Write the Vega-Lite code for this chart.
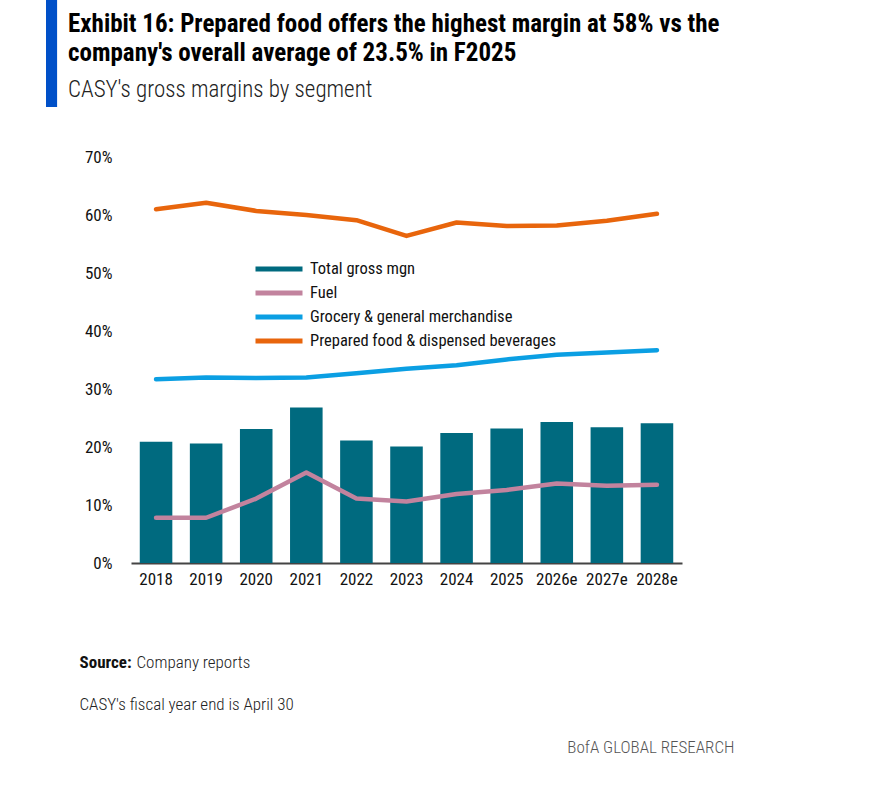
{
  "$schema": "https://vega.github.io/schema/vega-lite/v6.json",
  "autosize": {"type": "none"},
  "width": 551,
  "height": 406,
  "padding": {"left": 131, "top": 157, "right": 196, "bottom": 235},
  "background": "white",
  "config": {
    "view": {"stroke": null},
    "font": "Roboto Condensed, DejaVu Sans Condensed, sans-serif"
  },
  "title": {
    "text": ["Exhibit 16: Prepared food offers the highest margin at 58% vs the", "company's overall average of 23.5% in F2025"],
    "subtitle": "CASY's gross margins by segment",
    "anchor": "start",
    "frame": "group",
    "dx": -63,
    "offset": -96,
    "font": "Roboto Condensed, DejaVu Sans Condensed, sans-serif",
    "fontSize": 25,
    "fontWeight": "bold",
    "lineHeight": 29,
    "color": "#000000",
    "subtitleFont": "Roboto Condensed, DejaVu Sans Condensed, sans-serif",
    "subtitleFontSize": 23,
    "subtitleFontWeight": 300,
    "subtitleColor": "#222222",
    "subtitlePadding": 13
  },
  "data": {
    "values": [
      {"year": "2018", "series": "Total gross mgn", "value": 0.209},
      {"year": "2019", "series": "Total gross mgn", "value": 0.206},
      {"year": "2020", "series": "Total gross mgn", "value": 0.231},
      {"year": "2021", "series": "Total gross mgn", "value": 0.268},
      {"year": "2022", "series": "Total gross mgn", "value": 0.211},
      {"year": "2023", "series": "Total gross mgn", "value": 0.201},
      {"year": "2024", "series": "Total gross mgn", "value": 0.224},
      {"year": "2025", "series": "Total gross mgn", "value": 0.232},
      {"year": "2026e", "series": "Total gross mgn", "value": 0.243},
      {"year": "2027e", "series": "Total gross mgn", "value": 0.234},
      {"year": "2028e", "series": "Total gross mgn", "value": 0.241},
      {"year": "2018", "series": "Fuel", "value": 0.078},
      {"year": "2019", "series": "Fuel", "value": 0.078},
      {"year": "2020", "series": "Fuel", "value": 0.111},
      {"year": "2021", "series": "Fuel", "value": 0.156},
      {"year": "2022", "series": "Fuel", "value": 0.111},
      {"year": "2023", "series": "Fuel", "value": 0.106},
      {"year": "2024", "series": "Fuel", "value": 0.119},
      {"year": "2025", "series": "Fuel", "value": 0.126},
      {"year": "2026e", "series": "Fuel", "value": 0.137},
      {"year": "2027e", "series": "Fuel", "value": 0.133},
      {"year": "2028e", "series": "Fuel", "value": 0.135},
      {"year": "2018", "series": "Grocery & general merchandise", "value": 0.317},
      {"year": "2019", "series": "Grocery & general merchandise", "value": 0.320},
      {"year": "2020", "series": "Grocery & general merchandise", "value": 0.319},
      {"year": "2021", "series": "Grocery & general merchandise", "value": 0.320},
      {"year": "2022", "series": "Grocery & general merchandise", "value": 0.327},
      {"year": "2023", "series": "Grocery & general merchandise", "value": 0.335},
      {"year": "2024", "series": "Grocery & general merchandise", "value": 0.341},
      {"year": "2025", "series": "Grocery & general merchandise", "value": 0.351},
      {"year": "2026e", "series": "Grocery & general merchandise", "value": 0.359},
      {"year": "2027e", "series": "Grocery & general merchandise", "value": 0.363},
      {"year": "2028e", "series": "Grocery & general merchandise", "value": 0.367},
      {"year": "2018", "series": "Prepared food & dispensed beverages", "value": 0.610},
      {"year": "2019", "series": "Prepared food & dispensed beverages", "value": 0.621},
      {"year": "2020", "series": "Prepared food & dispensed beverages", "value": 0.607},
      {"year": "2021", "series": "Prepared food & dispensed beverages", "value": 0.600},
      {"year": "2022", "series": "Prepared food & dispensed beverages", "value": 0.591},
      {"year": "2023", "series": "Prepared food & dispensed beverages", "value": 0.564},
      {"year": "2024", "series": "Prepared food & dispensed beverages", "value": 0.587},
      {"year": "2025", "series": "Prepared food & dispensed beverages", "value": 0.581},
      {"year": "2026e", "series": "Prepared food & dispensed beverages", "value": 0.582},
      {"year": "2027e", "series": "Prepared food & dispensed beverages", "value": 0.590},
      {"year": "2028e", "series": "Prepared food & dispensed beverages", "value": 0.602}
    ]
  },
  "resolve": {
    "scale": {"x": "independent", "y": "independent"},
    "axis": {"x": "independent", "y": "independent"}
  },
  "layer": [
    {
      "transform": [{"filter": "datum.series === 'Total gross mgn'"}],
      "mark": {"type": "bar", "color": "#006A7F", "strokeWidth": 0},
      "encoding": {
        "x": {
          "field": "year",
          "type": "ordinal",
          "sort": null,
          "scale": {"paddingInner": 0.35, "paddingOuter": 0.175},
          "axis": {
            "labelAngle": 0,
            "labelFont": "Roboto Condensed, DejaVu Sans Condensed, sans-serif",
            "labelFontSize": 17,
            "labelColor": "#111111",
            "labelPadding": 8,
            "ticks": false,
            "domainColor": "#444444",
            "domainWidth": 2,
            "title": "Company reports",
            "titleFont": "Roboto Condensed, DejaVu Sans Condensed, sans-serif",
            "titleFontSize": 17,
            "titleFontWeight": 300,
            "titleColor": "#222222",
            "titleAlign": "left",
            "titleAnchor": "start",
            "titleBaseline": "alphabetic",
            "titleX": 5,
            "titleY": 104
          }
        },
        "y": {
          "field": "value",
          "type": "quantitative",
          "scale": {"domain": [0, 0.7], "nice": false},
          "axis": {
            "values": [0, 0.1, 0.2, 0.3, 0.4, 0.5, 0.6, 0.7],
            "format": ".0%",
            "grid": false,
            "ticks": false,
            "domain": false,
            "labelFont": "Roboto Condensed, DejaVu Sans Condensed, sans-serif",
            "labelFontSize": 17,
            "labelColor": "#111111",
            "labelPadding": 19,
            "title": "Source:",
            "titleFont": "Roboto Condensed, DejaVu Sans Condensed, sans-serif",
            "titleFontSize": 17,
            "titleFontWeight": "bold",
            "titleColor": "#111111",
            "titleAngle": 0,
            "titleAlign": "left",
            "titleBaseline": "alphabetic",
            "titleX": -52,
            "titleY": 510
          }
        },
        "stroke": {
          "field": "value",
          "type": "quantitative",
          "scale": {"range": ["#006A7F", "#006A7F"]},
          "legend": {
            "type": "gradient",
            "orient": "none",
            "direction": "vertical",
            "legendX": -79.5,
            "legendY": -151.5,
            "title": null,
            "gradientLength": 96,
            "gradientThickness": 0.1,
            "gradientStrokeColor": "#0050C8",
            "gradientStrokeWidth": 11,
            "labelExpr": "''",
            "labelOpacity": 0,
            "padding": 0
          }
        }
      }
    },
    {
      "transform": [{"filter": "datum.series !== 'Total gross mgn'"}],
      "mark": {"type": "line", "strokeWidth": 4.5, "strokeCap": "round", "strokeJoin": "round"},
      "encoding": {
        "x": {
          "field": "year",
          "type": "ordinal",
          "sort": null,
          "scale": {"type": "point", "padding": 0.5},
          "axis": {
            "orient": "top",
            "labels": false,
            "ticks": false,
            "domain": false,
            "title": "BofA GLOBAL RESEARCH",
            "titleFont": "Roboto Condensed, DejaVu Sans Condensed, sans-serif",
            "titleFontSize": 17,
            "titleFontWeight": 300,
            "titleColor": "#555555",
            "titleAlign": "right",
            "titleAnchor": "end",
            "titleBaseline": "alphabetic",
            "titleX": 603,
            "titleY": 595
          }
        },
        "y": {
          "field": "value",
          "type": "quantitative",
          "scale": {"domain": [0, 0.7], "nice": false},
          "axis": {
            "orient": "right",
            "labels": false,
            "ticks": false,
            "domain": false,
            "grid": false,
            "title": "CASY's fiscal year end is April 30",
            "titleFont": "Roboto Condensed, DejaVu Sans Condensed, sans-serif",
            "titleFontSize": 17,
            "titleFontWeight": 300,
            "titleColor": "#222222",
            "titleAngle": 0,
            "titleAlign": "left",
            "titleBaseline": "alphabetic",
            "titleX": -603,
            "titleY": 552
          }
        },
        "color": {
          "field": "series",
          "type": "nominal",
          "scale": {
            "domain": ["Total gross mgn", "Fuel", "Grocery & general merchandise", "Prepared food & dispensed beverages"],
            "range": ["#006A7F", "#C2839E", "#0B9FE3", "#E8650C"]
          },
          "legend": {
            "orient": "none",
            "legendX": 122,
            "legendY": 102,
            "title": null,
            "symbolType": "stroke",
            "symbolSize": 2209,
            "symbolStrokeWidth": 5,
            "labelFont": "Roboto Condensed, DejaVu Sans Condensed, sans-serif",
            "labelFontSize": 16.5,
            "labelColor": "#111111",
            "labelOffset": 5,
            "labelLimit": 400,
            "clipHeight": 20,
            "rowPadding": 4
          }
        }
      }
    }
  ]
}
